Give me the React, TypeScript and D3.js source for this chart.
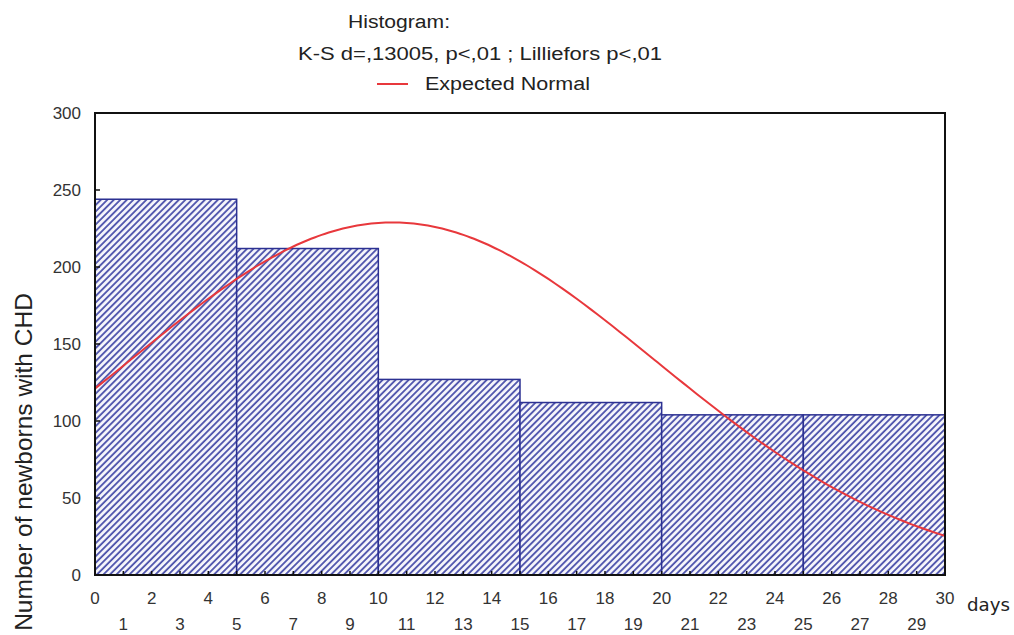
import React from "react";
import * as d3 from "d3";

// histogram bins (days) and counts
const binStarts = [0, 5, 10, 15, 20, 25];
const binWidth = 5;
const counts = [244, 212, 127, 112, 104, 104];
const yTicks = [0, 50, 100, 150, 200, 250, 300];
const evenTicks = [0, 2, 4, 6, 8, 10, 12, 14, 16, 18, 20, 22, 24, 26, 28, 30];
const oddTicks = [1, 3, 5, 7, 9, 11, 13, 15, 17, 19, 21, 23, 25, 27, 29];
// expected normal fit
const normalMean = 10.5;
const normalSd = 9.3;
const normalPeak = 229;

const width = 1014, height = 635;
const margin = { top: 113, right: 69, bottom: 60, left: 95 };

const App = () => {
    const x = d3.scaleLinear().domain([0, 30]).range([margin.left, width - margin.right]);
    const y = d3.scaleLinear().domain([0, 300]).range([height - margin.bottom, margin.top]);

    const curveXs = d3.range(0, 30.01, 0.25);
    const normal = (v: number) => normalPeak * Math.exp(-((v - normalMean) ** 2) / (2 * normalSd * normalSd));
    const line = d3.line<number>().x(d => x(d)).y(d => y(normal(d))).curve(d3.curveBasis);

    const font = "Arial, 'Liberation Sans', sans-serif";
    const minorTicks = d3.range(0, 31, 1);

    return (
        <svg width={width} height={height} style={{ position: "absolute", left: 0, top: 0, background: "#fff" }}>
            <defs>
                <pattern id="hatch" patternUnits="userSpaceOnUse" width={4.6} height={4.6} patternTransform="rotate(45)">
                    <rect width={4.6} height={4.6} fill="#f7f7fc" />
                    <line x1={1} y1={0} x2={1} y2={4.6} stroke="#4a50aa" strokeWidth={1.8} />
                </pattern>
            </defs>

            {/* title and legend */}
            <text x={348} y={28} textLength={102} lengthAdjust="spacingAndGlyphs"
                fontFamily={font} fontSize={18} fill="#222">Histogram:</text>
            <text x={298} y={60} textLength={364} lengthAdjust="spacingAndGlyphs"
                fontFamily={font} fontSize={18} fill="#222">
                K-S d=,13005, p&lt;,01 ; Lilliefors p&lt;,01
            </text>
            <line x1={377} x2={408} y1={84} y2={84} stroke="#e8383c" strokeWidth={2} />
            <text x={425} y={90} textLength={165} lengthAdjust="spacingAndGlyphs"
                fontFamily={font} fontSize={18} fill="#222">Expected Normal</text>

            {/* bars */}
            {binStarts.map((b, i) => (
                <rect key={i}
                    x={x(b)} y={y(counts[i])}
                    width={x(b + binWidth) - x(b)} height={y(0) - y(counts[i])}
                    fill="url(#hatch)" stroke="#2c3192" strokeWidth={1.5} />
            ))}

            {/* expected normal */}
            <path d={line(curveXs) || ""} fill="none" stroke="#e8383c" strokeWidth={2} />

            {/* frame */}
            <rect x={margin.left} y={margin.top} width={x(30) - x(0)} height={y(0) - y(300)}
                fill="none" stroke="#111" strokeWidth={2} />

            {/* y ticks */}
            {yTicks.map(t => (
                <g key={t}>
                    <line x1={x(0)} x2={x(0) + 5} y1={y(t)} y2={y(t)} stroke="#111" strokeWidth={1.5} />
                    <text x={81} y={y(t) + 6} textAnchor="end" fontFamily={font} fontSize={17} fill="#333">{t}</text>
                </g>
            ))}

            {/* x ticks */}
            {minorTicks.map(t => (
                <line key={t} x1={x(t)} x2={x(t)} y1={y(0)} y2={y(0) - 4} stroke="#111" strokeWidth={1.5} />
            ))}
            {evenTicks.map(t => (
                <text key={"e" + t} x={x(t)} y={604} textAnchor="middle" fontFamily={font} fontSize={17} fill="#333">{t}</text>
            ))}
            {oddTicks.map(t => (
                <text key={"o" + t} x={x(t)} y={630} textAnchor="middle" fontFamily={font} fontSize={17} fill="#333">{t}</text>
            ))}
            <text x={967} y={611} textLength={43} lengthAdjust="spacingAndGlyphs"
                fontFamily="'DejaVu Sans', sans-serif" fontSize={18} fill="#222">days</text>

            {/* y axis label */}
            <text transform={`translate(32, 462) rotate(-90)`} textAnchor="middle" fontFamily={font} fontSize={24.5} fill="#222">
                Number of newborns with CHD
            </text>
        </svg>
    );
};

export default App;
